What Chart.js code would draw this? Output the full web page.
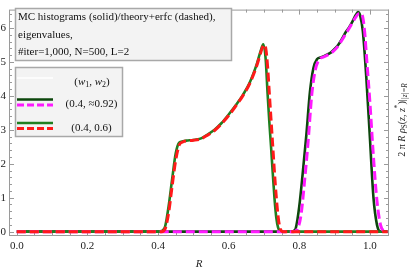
<!DOCTYPE html>
<html>
<head>
<meta charset="utf-8">
<script src="https://cdn.jsdelivr.net/npm/chart.js@4/dist/chart.umd.min.js"></script>
<style>
html,body{margin:0;padding:0;background:#fff;}
#wrap{width:415px;height:271px;}
</style>
</head>
<body>
<div id="wrap"><canvas id="c" width="415" height="271"></canvas></div>
<script>
// ---- data ----
// (w1,w2) = (0.4, 0.6): MC histogram
const rHistA = [0, 0.40, 0.41, 0.42, 0.43, 0.44, 0.45, 0.46, 0.47, 0.48, 0.50, 0.52, 0.54, 0.56, 0.58, 0.60, 0.62, 0.64, 0.66, 0.68, 0.69, 0.698, 0.705, 0.71, 0.715, 0.72, 0.725, 0.73, 0.735, 0.74, 0.745, 0.75, 1.05];
const histA  = [0, 0, 0.02, 0.15, 0.75, 1.55, 2.3, 2.62, 2.66, 2.68, 2.70, 2.74, 2.86, 3.00, 3.20, 3.45, 3.72, 4.02, 4.40, 4.95, 5.30, 5.52, 5.05, 4.10, 3.25, 2.50, 1.70, 0.95, 0.40, 0.12, 0.02, 0, 0];
// (0.4, 0.6): theory + erfc
const rTheoA = [0, 0.41, 0.42, 0.43, 0.44, 0.45, 0.46, 0.47, 0.48, 0.50, 0.52, 0.54, 0.56, 0.58, 0.60, 0.62, 0.64, 0.66, 0.68, 0.69, 0.70, 0.705, 0.71, 0.715, 0.72, 0.725, 0.73, 0.735, 0.74, 0.745, 0.75, 0.755, 1.05];
const theoA  = [0, 0, 0.08, 0.55, 1.35, 2.10, 2.55, 2.64, 2.67, 2.69, 2.73, 2.84, 2.98, 3.18, 3.42, 3.70, 4.00, 4.37, 4.90, 5.25, 5.50, 5.40, 4.90, 4.10, 3.30, 2.50, 1.70, 1.00, 0.45, 0.12, 0.02, 0, 0];
// (0.4, ≈0.92): MC histogram
const rHistB = [0, 0.78, 0.785, 0.79, 0.80, 0.81, 0.82, 0.83, 0.84, 0.85, 0.86, 0.87, 0.88, 0.89, 0.90, 0.91, 0.92, 0.93, 0.94, 0.95, 0.96, 0.966, 0.972, 0.98, 0.99, 1.00, 1.01, 1.02, 1.03, 1.05];
const histB  = [0, 0, 0.03, 0.10, 0.75, 1.75, 2.85, 4.10, 4.82, 5.08, 5.13, 5.17, 5.22, 5.28, 5.38, 5.50, 5.66, 5.85, 6.00, 6.18, 6.38, 6.47, 6.38, 5.90, 4.50, 2.75, 1.00, 0.20, 0, 0];
// (0.4, ≈0.92): theory + erfc
const rTheoB = [0, 0.785, 0.795, 0.805, 0.815, 0.825, 0.835, 0.845, 0.855, 0.87, 0.88, 0.89, 0.90, 0.91, 0.92, 0.93, 0.94, 0.95, 0.96, 0.968, 0.975, 0.98, 0.985, 0.99, 1.00, 1.01, 1.02, 1.03, 1.04, 1.05];
const theoB  = [0, 0, 0.08, 0.50, 1.50, 2.65, 4.00, 4.75, 5.05, 5.15, 5.20, 5.26, 5.35, 5.47, 5.63, 5.80, 5.97, 6.15, 6.32, 6.42, 6.42, 6.30, 5.90, 5.20, 3.80, 2.20, 0.90, 0.20, 0.02, 0];

const xTickVals = [0.0, 0.2, 0.4, 0.6, 0.8, 1.0];
const yTickVals = [0, 1, 2, 3, 4, 5, 6];
const xRange = [-0.022, 1.054];
const yRange = [-0.128, 6.54];

const legendTitle = ["MC histograms (solid)/theory+erfc (dashed),", "eigenvalues,", "#iter=1,000, N=500, L=2"];
const legendLabels = ["(0.4, \u22480.92)", "(0.4, 0.6)"];

// ---- colours / styles ----
const C_GREEN = '#1f7f1f', C_DKGREEN = '#0d470d', C_RED = '#ff1a1a', C_MAG = '#ff1aff';
const SERIF = '"Liberation Serif", "DejaVu Serif", serif';

function pts(xs, ys){ return xs.map((x,i)=>({x:x, y:ys[i]})); }

const datasets = [
  {label:'theoA', data:pts(rTheoA, theoA), borderColor:C_RED, borderWidth:3, borderDash:[9,4]},
  {label:'theoB', data:pts(rTheoB, theoB), borderColor:C_MAG, borderWidth:3, borderDash:[9,4]},
  {label:'histA', data:pts(rHistA, histA), borderColor:C_GREEN, borderWidth:2.6},
  {label:'histB', data:pts(rHistB, histB), borderColor:C_DKGREEN, borderWidth:2.6}
].map(d=>Object.assign({pointRadius:0, fill:false, tension:0.25, cubicInterpolationMode:'monotone', borderCapStyle:'butt', borderJoinStyle:'round'}, d));

function drawRich(ctx, parts, x, y, size){
  // parts: [text, kind] kind: 'n' normal, 'i' italic, 'sub' subscript, 'sup' superscript
  let cx = x;
  for (const [t,k] of parts){
    let fs = size, dy = 0, st = '';
    if (k==='i') st='italic ';
    if (k==='sub'){ fs = size*0.72; dy = size*0.28; }
    if (k==='subi'){ fs = size*0.72; dy = size*0.28; st='italic '; }
    if (k==='sup'){ fs = size*0.72; dy = -size*0.38; }
    ctx.font = st + fs + 'px ' + SERIF;
    ctx.fillText(t, cx, y+dy);
    cx += ctx.measureText(t).width;
  }
  return cx - x;
}
function measureRich(ctx, parts, size){
  let w=0;
  for (const [t,k] of parts){
    let fs=size, st='';
    if (k==='i') st='italic ';
    if (k==='sub'||k==='sup') fs=size*0.72;
    if (k==='subi'){fs=size*0.72; st='italic ';}
    ctx.font = st+fs+'px '+SERIF;
    w += ctx.measureText(t).width;
  }
  return w;
}

const framePlugin = {
  id:'frame',
  beforeDatasetsDraw(chart){
    const {ctx, chartArea:a, scales:{x, y}} = chart;
    ctx.save();
    ctx.strokeStyle = '#9a9a9a';
    ctx.lineWidth = 1;
    ctx.strokeRect(a.left+0.5, a.top+0.5, a.right-a.left-1, a.bottom-a.top-1);
    ctx.beginPath();
    // x ticks (bottom & top), major 0.2, minor 0.05
    for (let k=0; k<=21; k++){
      const v = k*0.05; const px = Math.round(x.getPixelForValue(v))+0.5;
      const L = (k%4===0)?5:3;
      ctx.moveTo(px, a.bottom); ctx.lineTo(px, a.bottom-L);
      ctx.moveTo(px, a.top); ctx.lineTo(px, a.top+L);
    }
    // y ticks (left & right), major 1, minor 0.2
    for (let k=0; k<=32; k++){
      const v = k*0.2; const py = Math.round(y.getPixelForValue(v))+0.5;
      const L = (k%5===0)?5:3;
      ctx.moveTo(a.left, py); ctx.lineTo(a.left+L, py);
      ctx.moveTo(a.right, py); ctx.lineTo(a.right-L, py);
    }
    ctx.stroke();
    ctx.restore();
  },
  afterDraw(chart){
    const {ctx} = chart;
    ctx.save();
    // ---- box 1 ----
    ctx.fillStyle = '#f3f3f3';
    ctx.fillRect(15, 8, 217, 53);
    ctx.strokeStyle = '#a8a8a8'; ctx.lineWidth = 1.5;
    ctx.strokeRect(15.5, 8.5, 216, 52);
    ctx.fillStyle = '#111';
    ctx.textBaseline = 'middle'; ctx.textAlign = 'left';
    ctx.font = '11px ' + SERIF;
    ctx.fillText(legendTitle[0], 18, 17);
    ctx.fillText(legendTitle[1], 18, 35);
    ctx.fillText(legendTitle[2], 18, 52);
    // ---- box 2 ----
    ctx.fillStyle = '#f3f3f3';
    ctx.fillRect(15, 67, 108, 70);
    ctx.strokeStyle = '#a8a8a8'; ctx.lineWidth = 1.5;
    ctx.strokeRect(15.5, 67.5, 107, 69);
    // header
    ctx.strokeStyle = '#ffffff'; ctx.lineWidth = 1.5; ctx.setLineDash([]);
    ctx.beginPath(); ctx.moveTo(17, 78); ctx.lineTo(53, 78); ctx.stroke();
    ctx.fillStyle = '#111';
    const hdr = [['(', 'n'], ['w','i'], ['1','sub'], [', ','n'], ['w','i'], ['2','sub'], [')','n']];
    const hw = measureRich(ctx, hdr, 11);
    drawRich(ctx, hdr, 92 - hw/2, 82, 11);
    // entries
    const entries = [
      {solid:C_DKGREEN, dash:C_MAG, ys:99.5, yd:105, ty:104.5, text:legendLabels[0]},
      {solid:C_GREEN, dash:C_RED, ys:123, yd:128.5, ty:128, text:legendLabels[1]}
    ];
    for (const e of entries){
      ctx.setLineDash([]); ctx.lineWidth = 2.6; ctx.strokeStyle = e.solid;
      ctx.beginPath(); ctx.moveTo(17, e.ys); ctx.lineTo(53, e.ys); ctx.stroke();
      ctx.setLineDash([7,3]); ctx.lineWidth = 3; ctx.strokeStyle = e.dash;
      ctx.beginPath(); ctx.moveTo(17, e.yd); ctx.lineTo(53, e.yd); ctx.stroke();
      ctx.setLineDash([]);
      ctx.fillStyle = '#111'; ctx.font = '11px ' + SERIF; ctx.textAlign='center';
      ctx.fillText(e.text, 91.5, e.ty);
      ctx.textAlign='left';
    }
    // ---- right axis label (rotated) ----
    ctx.translate(402, 120);
    ctx.rotate(-Math.PI/2);
    ctx.fillStyle = '#222';
    const lab = [['2 \u03c0 ','n'], ['R','i'], [' ','n'], ['\u03c1','i'], ['S','sub'], ['(','n'], ['z','i'], [', ','n'], ['z','i'], ['*','sup'], [')','n'], ['|','n'], ['|z|=R','subi']];
    const lw = measureRich(ctx, lab, 10);
    drawRich(ctx, lab, -lw/2, 0, 10);
    ctx.restore();
  }
};

new Chart(document.getElementById('c'), {
  type:'line',
  data:{datasets},
  options:{
    responsive:false, animation:false, devicePixelRatio:1,
    layout:{padding:{left:0, right:26, top:1, bottom:0}},
    plugins:{legend:{display:false}, tooltip:{enabled:false}},
    scales:{
      x:{
        type:'linear', min:xRange[0], max:xRange[1],
        afterBuildTicks(s){ s.ticks = xTickVals.map(v=>({value:v})); },
        afterFit(s){ s.height = 35; },
        grid:{display:false, drawTicks:false},
        border:{display:false},
        ticks:{padding:4, color:'#222', font:{family:SERIF, size:11}, maxRotation:0, autoSkip:false,
               callback:(v)=>Number(v).toFixed(1)},
        title:{display:true, text:'R', color:'#222', padding:{top:3, bottom:0}, font:{family:SERIF, size:11, style:'italic'}}
      },
      y:{
        type:'linear', min:yRange[0], max:yRange[1],
        afterBuildTicks(s){ s.ticks = yTickVals.map(v=>({value:v})); },
        afterFit(s){ s.width = 9; },
        grid:{display:false, drawTicks:false},
        border:{display:false},
        ticks:{padding:3, color:'#222', font:{family:SERIF, size:11}, autoSkip:false,
               callback:(v)=>String(v)}
      }
    }
  },
  plugins:[framePlugin]
});
</script>
</body>
</html>
